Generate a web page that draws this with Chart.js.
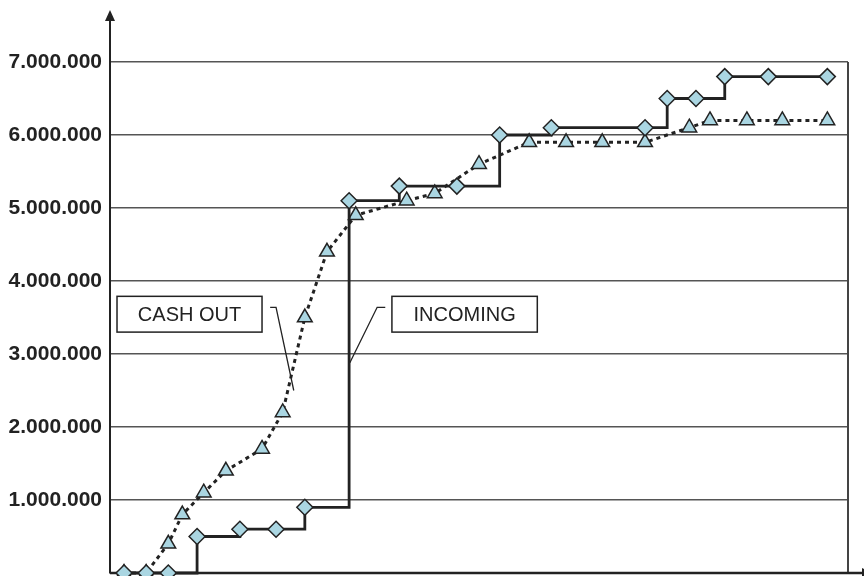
<!DOCTYPE html>
<html>
<head>
<meta charset="utf-8">
<script src="https://cdn.jsdelivr.net/npm/chart.js@4.4.0/dist/chart.umd.min.js"></script>
<style>
  html, body { margin: 0; padding: 0; background: #fff; }
</style>
</head>
<body>
<canvas id="cashChart" width="864" height="576"></canvas>
<script>
// position of each reading along the time axis (0 - 100)
const incomingX = [1.9, 4.9, 7.9, 11.8, 17.6, 22.5, 26.4, 32.4, 39.2, 47.0, 52.8, 59.8, 72.5, 75.5, 79.4, 83.3, 89.2, 97.2];
const incomingValues = [0, 0, 0, 500000, 600000, 600000, 900000, 5100000, 5300000, 5300000, 6000000, 6100000, 6100000, 6500000, 6500000, 6800000, 6800000, 6800000];

const cashOutX = [1.9, 4.9, 7.9, 9.8, 12.7, 15.7, 20.6, 23.4, 26.4, 29.4, 33.3, 40.2, 44.0, 50.0, 56.8, 61.8, 66.7, 72.5, 78.5, 81.3, 86.3, 91.1, 97.2];
const cashOutValues = [0, 0, 400000, 800000, 1100000, 1400000, 1700000, 2200000, 3500000, 4400000, 4900000, 5100000, 5200000, 5600000, 5900000, 5900000, 5900000, 5900000, 6100000, 6200000, 6200000, 6200000, 6200000];

const yTickValues = [1000000, 2000000, 3000000, 4000000, 5000000, 6000000, 7000000];
const seriesNames = ['INCOMING', 'CASH OUT'];

const ink = '#222';
const markerFill = '#aad6e2';

function formatDots(v) {
    return String(v).replace(/\B(?=(\d{3})+(?!\d))/g, '.');
}

function toPoints(xs, ys) {
    return xs.map((x, i) => ({ x: x, y: ys[i] }));
}

// labelled boxes with leader lines, placed in data units
const callouts = [
    { text: seriesNames[1], box: [0.95, 20.6, 3790000, 3300000], leader: [[21.7, 3640000], [22.5, 3640000], [24.9, 2500000]] },
    { text: seriesNames[0], box: [38.2, 57.9, 3790000, 3300000], leader: [[37.3, 3640000], [36.2, 3640000], [32.5, 2880000]] }
];

const decorPlugin = {
    id: 'decor',
    beforeDatasetsDraw(chart) {
        const { ctx, chartArea } = chart;
        ctx.save();
        // right frame line
        ctx.strokeStyle = '#444';
        ctx.lineWidth = 2;
        ctx.beginPath();
        ctx.moveTo(chartArea.right, chartArea.top);
        ctx.lineTo(chartArea.right, chartArea.bottom);
        ctx.stroke();
        // x axis line with arrow running off the right edge
        ctx.strokeStyle = ink;
        ctx.fillStyle = ink;
        ctx.lineWidth = 2.5;
        ctx.beginPath();
        ctx.moveTo(chartArea.left, chartArea.bottom);
        ctx.lineTo(chart.width, chartArea.bottom);
        ctx.stroke();
        ctx.beginPath();
        ctx.moveTo(chartArea.right + 25, chartArea.bottom);
        ctx.lineTo(chartArea.right + 14, chartArea.bottom - 5);
        ctx.lineTo(chartArea.right + 14, chartArea.bottom + 5);
        ctx.closePath();
        ctx.fill();
        ctx.restore();
    },
    afterDraw(chart) {
        const { ctx, chartArea, scales } = chart;
        const x = scales.x, y = scales.y;
        ctx.save();
        ctx.strokeStyle = ink;
        ctx.fillStyle = ink;
        ctx.lineWidth = 2;

        // y axis arrow
        ctx.beginPath();
        ctx.moveTo(chartArea.left, chartArea.top);
        ctx.lineTo(chartArea.left, 18);
        ctx.stroke();
        ctx.beginPath();
        ctx.moveTo(chartArea.left, 10);
        ctx.lineTo(chartArea.left - 5, 21);
        ctx.lineTo(chartArea.left + 5, 21);
        ctx.closePath();
        ctx.fill();

        // callouts
        ctx.font = '20px "Liberation Sans", Arial, sans-serif';
        ctx.textAlign = 'center';
        ctx.textBaseline = 'middle';
        callouts.forEach(c => {
            const left = x.getPixelForValue(c.box[0]);
            const right = x.getPixelForValue(c.box[1]);
            const top = y.getPixelForValue(c.box[2]);
            const bottom = y.getPixelForValue(c.box[3]);
            ctx.fillStyle = '#fff';
            ctx.fillRect(left, top, right - left, bottom - top);
            ctx.strokeStyle = ink;
            ctx.lineWidth = 1.5;
            ctx.strokeRect(left, top, right - left, bottom - top);
            ctx.fillStyle = ink;
            ctx.fillText(c.text, (left + right) / 2, (top + bottom) / 2 + 1);

            ctx.lineWidth = 1.3;
            ctx.beginPath();
            c.leader.forEach((p, i) => {
                const px = x.getPixelForValue(p[0]);
                const py = y.getPixelForValue(p[1]);
                if (i === 0) ctx.moveTo(px, py); else ctx.lineTo(px, py);
            });
            ctx.stroke();
        });
        ctx.restore();
    }
};

Chart.defaults.font.family = '"Liberation Sans", Arial, sans-serif';

const ctx = document.getElementById('cashChart').getContext('2d');
new Chart(ctx, {
    type: 'line',
    data: {
        datasets: [{
            label: seriesNames[0],
            data: toPoints(incomingX, incomingValues),
            stepped: true,
            borderColor: ink,
            borderWidth: 2.8,
            pointStyle: 'rectRot',
            pointRadius: 8,
            pointBackgroundColor: markerFill,
            pointBorderColor: ink,
            pointBorderWidth: 1.5,
            clip: false
        }, {
            label: seriesNames[1],
            data: toPoints(cashOutX, cashOutValues),
            tension: 0,
            borderColor: ink,
            borderWidth: 3,
            borderDash: [4, 4],
            pointStyle: 'triangle',
            pointRadius: 8.5,
            pointBackgroundColor: markerFill,
            pointBorderColor: ink,
            pointBorderWidth: 1.5,
            clip: false
        }]
    },
    options: {
        responsive: false,
        animation: false,
        layout: {
            autoPadding: false,
            padding: { top: 62, right: 16, bottom: 3, left: 0 }
        },
        plugins: {
            legend: { display: false },
            tooltip: { enabled: false }
        },
        scales: {
            x: {
                type: 'linear',
                display: false,
                min: 0,
                max: 100
            },
            y: {
                min: 0,
                max: 7000000,
                afterBuildTicks: function(scale) {
                    scale.ticks = yTickValues.map(v => ({ value: v }));
                },
                ticks: {
                    padding: 8,
                    color: ink,
                    font: { size: 21, weight: 'bold' },
                    callback: function(value) { return formatDots(value); }
                },
                grid: { color: '#555', lineWidth: 1.5, drawTicks: false },
                border: { display: true, color: ink, width: 2 },
                afterFit: function(scale) {
                    // keep the plot edges where the reference has them
                    scale.width = 110;
                    scale.paddingTop = 0;
                    scale.paddingBottom = 0;
                }
            }
        }
    },
    plugins: [decorPlugin]
});
</script>
</body>
</html>
